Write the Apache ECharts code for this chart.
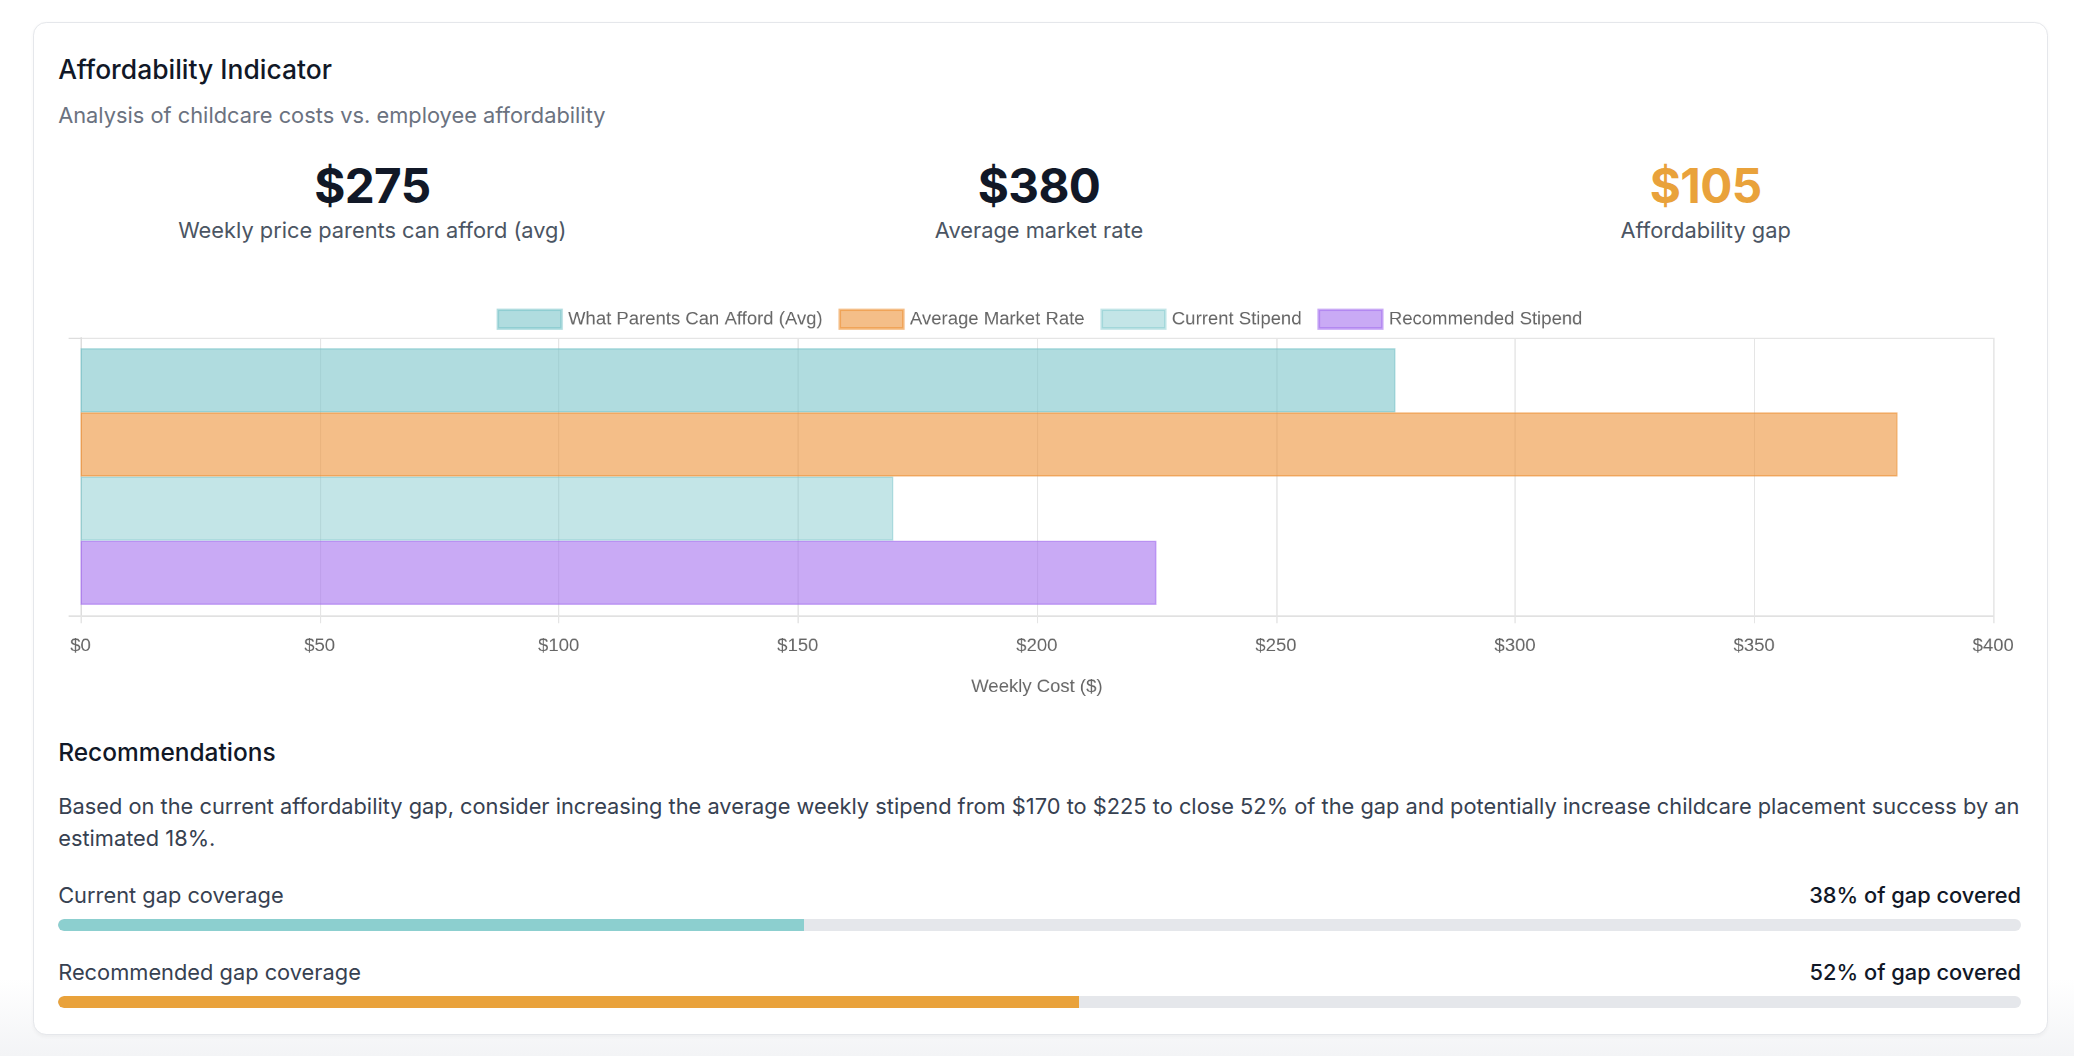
<!DOCTYPE html>
<html>
<head>
<meta charset="utf-8">
<script src="https://cdn.jsdelivr.net/npm/echarts@6/dist/echarts.min.js"></script>
<style>
  html, body { margin: 0; background: #fff; }
  body { font-family: Inter, "Noto Sans", sans-serif; color: #111827; }
  #page { zoom: 1.3227; width: 1568px; height: 798px; position: relative; background: linear-gradient(#fff 740px, #f3f4f6 798px); }
  .card { position: absolute; left: 25px; top: 17px; width: 1522px; height: 764px; border: 1px solid #e5e7eb; border-radius: 10px; background: #fff; box-shadow: 0 1px 3px rgba(0,0,0,0.04); }
  .abs { position: absolute; white-space: nowrap; }
  .stat { position: absolute; width: 495px; text-align: center; }
  .stat .v { font-size: 36px; font-weight: 700; line-height: 44px; letter-spacing: -0.5px; }
  .stat .l { font-size: 16.5px; color: #4b5563; line-height: 22px; }
  .track { position: absolute; left: 44px; width: 1484px; height: 9px; background: #e5e7eb; border-radius: 5px; overflow: hidden; }
  .fill { height: 100%; border-radius: 5px 0 0 5px; }
</style>
</head>
<body>
<div id="page">
  <div class="card"></div>
  <div class="abs" style="left:44px;top:40px;font-size:20px;font-weight:500;">Affordability Indicator</div>
  <div class="abs" style="left:44px;top:77px;font-size:16.5px;color:#6b7280;">Analysis of childcare costs vs. employee affordability</div>

  <div class="stat" style="left:34px;top:119px;"><div class="v">$275</div><div class="l">Weekly price parents can afford (avg)</div></div>
  <div class="stat" style="left:538px;top:119px;"><div class="v">$380</div><div class="l">Average market rate</div></div>
  <div class="stat" style="left:1042px;top:119px;"><div class="v" style="color:#e9a23b">$105</div><div class="l">Affordability gap</div></div>

  <div id="main" style="position:absolute;left:44px;top:222px;width:1484px;height:310px;"></div>

  <div class="abs" style="left:44px;top:557px;font-size:18.5px;font-weight:500;">Recommendations</div>
  <div style="position:absolute;left:44px;top:598px;width:1490px;font-size:16.5px;line-height:24px;color:#374151;">Based on the current affordability gap, consider increasing the average weekly stipend from $170 to $225 to close 52% of the gap and potentially increase childcare placement success by an estimated 18%.</div>

  <div class="abs" style="left:44px;top:667px;font-size:16.5px;color:#374151;">Current gap coverage</div>
  <div class="abs" style="right:40px;top:667px;font-size:16.5px;font-weight:500;">38% of gap covered</div>
  <div class="track" style="top:695px;"><div class="fill" style="width:38%;background:#8ccfcf;"></div></div>

  <div class="abs" style="left:44px;top:725px;font-size:16.5px;color:#374151;">Recommended gap coverage</div>
  <div class="abs" style="right:40px;top:725px;font-size:16.5px;font-weight:500;">52% of gap covered</div>
  <div class="track" style="top:753px;"><div class="fill" style="width:52%;background:#e9a23b;"></div></div>
</div>
<script>
var seriesNames = ['What Parents Can Afford (Avg)', 'Average Market Rate', 'Current Stipend', 'Recommended Stipend'];
var seriesValues = [275, 380, 170, 225];
var seriesColors = ['rgba(123,197,202,0.6)', 'rgba(237,147,57,0.6)', 'rgba(123,197,202,0.45)', 'rgba(165,113,238,0.6)'];
var xTicks = [0, 50, 100, 150, 200, 250, 300, 350, 400];

var myChart = echarts.init(document.getElementById('main'), null, {devicePixelRatio: 2});
var font = '"Liberation Sans", Arial, sans-serif';

myChart.setOption({
  animation: false,
  textStyle: {fontFamily: font},
  legend: {
    top: 6, left: 'center',
    itemWidth: 48, itemHeight: 14, itemGap: 12,
    icon: 'rect',
    textStyle: {fontSize: 14, color: '#666', fontFamily: font},
    data: seriesNames
  },
  grid: {left: 17, right: 21, top: 33, height: 210},
  xAxis: {
    type: 'value', min: xTicks[0], max: xTicks[xTicks.length - 1], interval: 50,
    name: 'Weekly Cost ($)', nameLocation: 'middle', nameGap: 47,
    nameTextStyle: {fontSize: 14, color: '#666', fontFamily: font},
    axisLine: {show: true, lineStyle: {color: '#ddd'}},
    axisTick: {show: true, length: 6, lineStyle: {color: '#e5e5e5'}},
    axisLabel: {fontSize: 14, color: '#666', margin: 16, fontFamily: font, formatter: function (v) { return '$' + v; }},
    splitLine: {show: true, lineStyle: {color: '#e5e5e5'}}
  },
  yAxis: {
    type: 'category', data: [''],
    axisLine: {show: true, lineStyle: {color: '#ddd'}},
    axisTick: {show: true, length: 9, lineStyle: {color: '#ddd'}},
    axisLabel: {show: false},
    splitLine: {show: true, lineStyle: {color: '#e5e5e5'}}
  },
  series: seriesNames.map(function (n, i) {
    return {
      name: n, type: 'bar', data: [seriesValues[i]],
      barGap: '0%', barCategoryGap: '7.6%',
      itemStyle: {color: seriesColors[i], borderColor: seriesColors[i], borderWidth: 1}
    };
  })
});
</script>
</body>
</html>
